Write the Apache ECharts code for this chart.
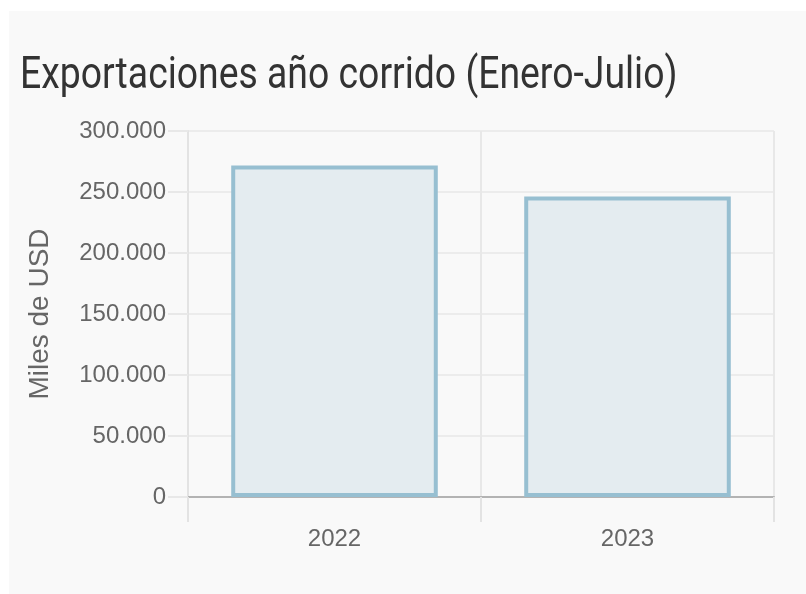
<!DOCTYPE html>
<html>
<head>
<meta charset="utf-8">
<script src="https://cdn.jsdelivr.net/npm/echarts@6/dist/echarts.min.js"></script>
<style>
  html, body { margin: 0; padding: 0; background: #ffffff; }
  #card { position: absolute; left: 9px; top: 11px; width: 797px; height: 583px; background: #f9f9f9; }
  #chart { position: absolute; left: 0; top: 0; width: 806px; height: 594px; }
</style>
</head>
<body>
<div id="card"></div>
<div id="chart"></div>
<script>
// datos
const years = ['2022', '2023'];
const exportValues = [271700, 246300];
const yMax = 300000;
const yStep = 50000;
const chartTitle = 'Exportaciones año corrido (Enero-Julio)';

const chart = echarts.init(document.getElementById('chart'), null, { renderer: 'canvas' });

// separador de miles con punto
const fmt = (v) => String(v).replace(/\B(?=(\d{3})+(?!\d))/g, '.');

const option = {
  backgroundColor: 'transparent',
  // título algo condensado, como en la imagen original
  graphic: [
    {
      type: 'text',
      x: 20,
      y: 77,
      scaleX: 0.83,
      silent: true,
      style: {
        text: chartTitle,
        fontFamily: 'Roboto',
        fontSize: 45,
        fill: '#333333',
        verticalAlign: 'middle'
      }
    }
  ],
  grid: {
    left: 188,
    right: 32,
    top: 131,
    bottom: 97,
    containLabel: false
  },
  xAxis: {
    type: 'category',
    data: years,
    boundaryGap: true,
    axisLine: { show: true, lineStyle: { color: '#b3b3b3', width: 2 } },
    axisTick: { show: true, length: 25, lineStyle: { color: '#e3e3e3', width: 2 } },
    axisLabel: {
      margin: 30,
      fontFamily: 'Liberation Sans',
      fontSize: 24,
      color: '#666666'
    },
    splitLine: { show: true, lineStyle: { color: '#e8e8e8', width: 2 } }
  },
  yAxis: {
    type: 'value',
    min: 0,
    max: yMax,
    interval: yStep,
    name: 'Miles de USD',
    nameLocation: 'middle',
    nameGap: 134,
    nameTextStyle: {
      fontFamily: 'Liberation Sans',
      fontSize: 28,
      color: '#666666'
    },
    axisLine: { show: true, lineStyle: { color: '#e3e3e3', width: 2 } },
    axisTick: { show: true, length: 20, lineStyle: { color: '#e8e8e8', width: 2 } },
    axisLabel: {
      margin: 22,
      fontFamily: 'Liberation Sans',
      fontSize: 24,
      color: '#666666',
      formatter: fmt
    },
    splitLine: { show: true, lineStyle: { color: '#ececec', width: 2 } }
  },
  series: [
    {
      type: 'bar',
      data: exportValues,
      barWidth: '70.5%',
      itemStyle: {
        color: '#e4ecf0',
        borderColor: '#97bfd1',
        borderWidth: 4
      },
      silent: true
    }
  ]
};

option && chart.setOption(option);
</script>
</body>
</html>
